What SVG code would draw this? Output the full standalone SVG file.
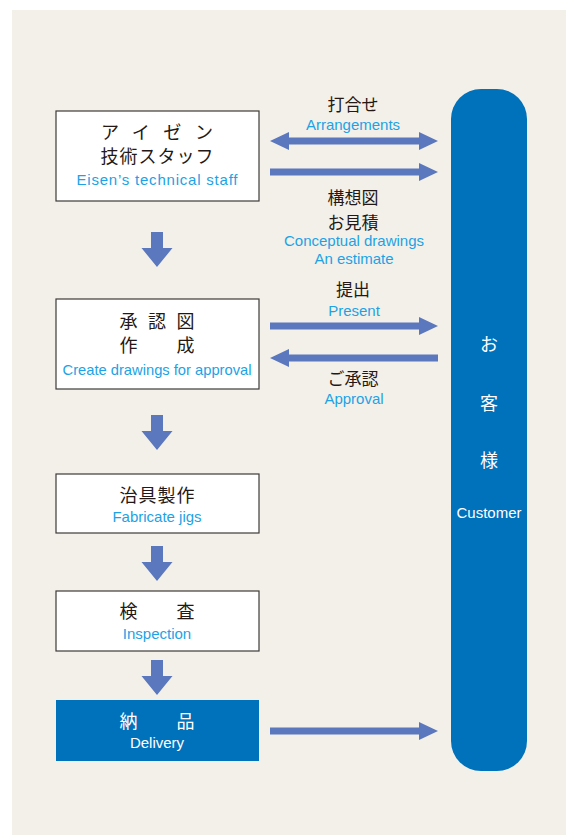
<svg xmlns="http://www.w3.org/2000/svg" width="566" height="835" viewBox="0 0 566 835">
<defs>
<style>
.jp{font-family:"Noto Sans CJK JP","Noto Sans CJK SC",sans-serif;font-size:18px;fill:#231815;text-anchor:middle}
.lb{font-size:17px}
.en{font-family:"Liberation Sans",Arial,sans-serif;font-size:15px;fill:#1da2e5;text-anchor:middle}
.box{fill:#ffffff;stroke:#3e3a39;stroke-width:1.2}
.arr{fill:#5b77bd}
.wjp{fill:#ffffff}
.wen{fill:#ffffff}
</style>
<path id="down" d="M-6,0 H6 V16 H15.5 L0,35 L-15.5,16 H-6 Z"/>
<path id="right" d="M0,-3.5 H149 V-9 L168,0 L149,9 V3.5 H0 Z"/>
<path id="left" d="M0,0 L19,-9 V-3.5 H168 V3.5 H19 V9 Z"/>
</defs>
<rect x="12" y="10" width="554" height="825" fill="#f3f0e9"/>

<g id="customer">
<rect x="451" y="89" width="76" height="682" rx="30" ry="30" fill="#0071bb"/>
<text class="jp wjp" x="489" y="351">お</text>
<text class="jp wjp" x="489" y="410">客</text>
<text class="jp wjp" x="489" y="467">様</text>
<text class="en wen" x="489" y="518">Customer</text>
</g>

<g id="staff">
<rect class="box" x="56" y="111" width="203" height="90"/>
<text class="jp" x="157" y="139" textLength="112" lengthAdjust="spacing">アイゼン</text>
<text class="jp" x="157" y="162.5" textLength="113" lengthAdjust="spacing">技術スタッフ</text>
<text class="en" x="157" y="185" textLength="161" lengthAdjust="spacing">Eisen’s technical staff</text>
</g>

<g id="approval-drawing">
<rect class="box" x="56" y="299" width="203" height="90"/>
<text class="jp" x="157" y="327.5" textLength="75" lengthAdjust="spacing">承認図</text>
<text class="jp" x="157" y="351.5" textLength="75" lengthAdjust="spacing">作成</text>
<text class="en" x="157" y="375" textLength="189" lengthAdjust="spacingAndGlyphs">Create drawings for approval</text>
</g>

<g id="jigs">
<rect class="box" x="56" y="474" width="203" height="59"/>
<text class="jp" x="157" y="501.5" textLength="75" lengthAdjust="spacing">治具製作</text>
<text class="en" x="157" y="522">Fabricate jigs</text>
</g>

<g id="inspection">
<rect class="box" x="56" y="591" width="203" height="60"/>
<text class="jp" x="157" y="618" textLength="75" lengthAdjust="spacing">検査</text>
<text class="en" x="157" y="639">Inspection</text>
</g>

<g id="delivery">
<rect x="56" y="700" width="203" height="61" fill="#0071bb"/>
<text class="jp wjp" x="157" y="728" textLength="75" lengthAdjust="spacing">納品</text>
<text class="en wen" x="157" y="748">Delivery</text>
</g>

<g id="connectors" class="arr">
<use href="#down" x="157" y="232"/>
<use href="#down" x="157" y="415"/>
<use href="#down" x="157" y="546"/>
<use href="#down" x="157" y="660"/>
<path d="M270,141 L289,132 V137.5 H419 V132 L438,141 L419,150 V144.5 H289 V150 Z"/>
<use href="#right" x="270" y="172"/>
<use href="#right" x="270" y="326"/>
<use href="#left" x="270" y="358"/>
<use href="#right" x="270" y="731"/>
</g>

<g id="labels">
<text class="jp lb" x="353" y="110.5">打合せ</text>
<text class="en" x="353" y="129.5">Arrangements</text>
<text class="jp lb" x="353" y="204">構想図</text>
<text class="jp lb" x="353" y="228.5">お見積</text>
<text class="en" x="354" y="246">Conceptual drawings</text>
<text class="en" x="354" y="263.5">An estimate</text>
<text class="jp lb" x="353" y="296">提出</text>
<text class="en" x="354" y="315.5">Present</text>
<text class="jp lb" x="353" y="384.5">ご承認</text>
<text class="en" x="354" y="403.5">Approval</text>
</g>
</svg>
